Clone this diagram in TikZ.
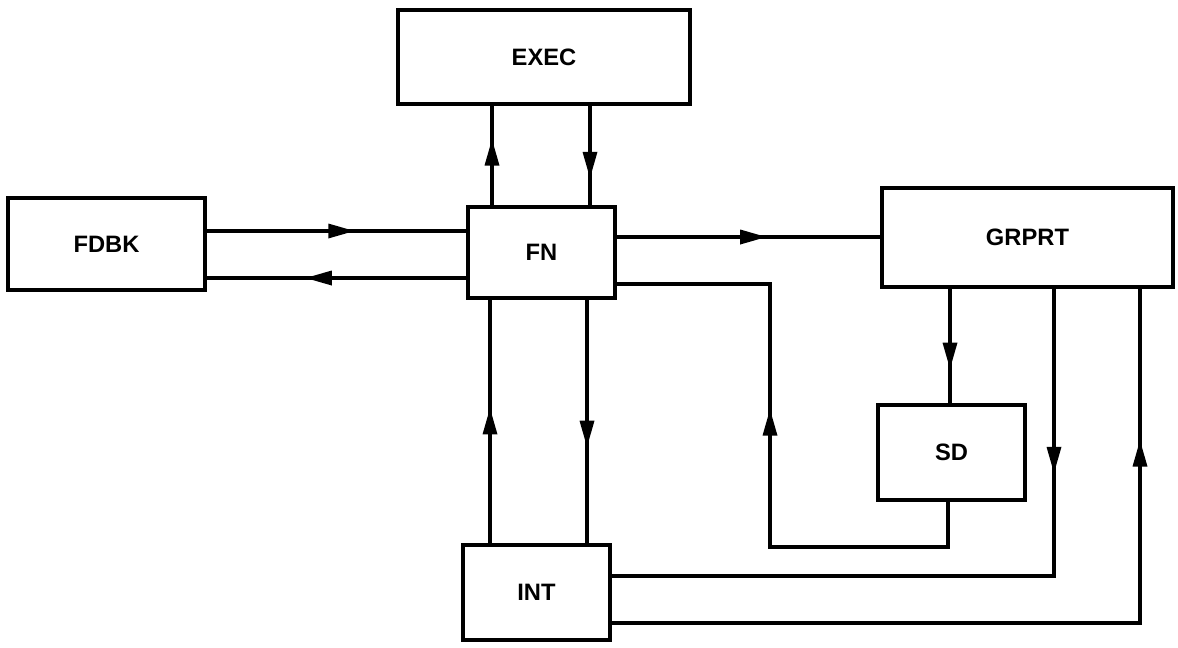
\documentclass[tikz,border=0pt]{standalone}
\usepackage{fontspec}
\setmainfont{Liberation Sans}
\usetikzlibrary{shapes.geometric}
\newdimen\pxu \pxu=0.02cm
\begin{document}
\begin{tikzpicture}[x=0.02cm, y=-0.02cm,
  blk/.style={draw, line width=2pt, inner sep=0pt, font=\bfseries\fontsize{13.5}{16}\selectfont},
  conn/.style={line width=2pt},
  ahead/.style={sloped, allow upside down, isosceles triangle, isosceles triangle stretches, fill=black, draw=none, inner sep=0pt, minimum height=26\pxu, minimum width=15\pxu}]
\useasboundingbox (0,0) rectangle (1178,647);
% boxes
\node[blk, minimum width=292\pxu, minimum height=94\pxu] (EXEC) at (544,57) {EXEC};
\node[blk, minimum width=197\pxu, minimum height=92\pxu] (FDBK) at (106.5,244) {FDBK};
\node[blk, minimum width=147\pxu, minimum height=91\pxu] (FN) at (541.5,252.5) {FN};
\node[blk, minimum width=291\pxu, minimum height=99\pxu] (GRPRT) at (1027.5,237.5) {GRPRT};
\node[blk, minimum width=147\pxu, minimum height=95\pxu] (SD) at (951.5,452.5) {SD};
\node[blk, minimum width=147\pxu, minimum height=95\pxu] (INT) at (536.5,592.5) {INT};
% FN <-> EXEC
\draw[conn] (FN.north -| 492,0) -- node[ahead, pos=0.456]{} (EXEC.south -| 492,0);
\draw[conn] (EXEC.south -| 590,0) -- node[ahead, pos=0.52]{} (FN.north -| 590,0);
% FDBK <-> FN
\draw[conn] (FDBK.east |- 0,231) -- node[ahead, pos=0.49]{} (FN.west |- 0,231);
\draw[conn] (FN.west |- 0,278) -- node[ahead, pos=0.54]{} (FDBK.east |- 0,278);
% FN -> GRPRT
\draw[conn] (FN.east |- 0,237) -- node[ahead, pos=0.49]{} (GRPRT.west |- 0,237);
% INT <-> FN
\draw[conn] (INT.north -| 490,0) -- node[ahead, pos=0.47]{} (FN.south -| 490,0);
\draw[conn] (FN.south -| 587,0) -- node[ahead, pos=0.52]{} (INT.north -| 587,0);
% SD -> FN
\draw[conn] (SD.south -| 948,0) -- (948,547) -- (770,547) -- node[ahead, pos=0.445]{} (770,284) -- (FN.east |- 0,284);
% GRPRT -> SD
\draw[conn] (GRPRT.south -| 950,0) -- node[ahead, pos=0.52]{} (SD.north -| 950,0);
% GRPRT -> INT
\draw[conn] (GRPRT.south -| 1054,0) -- node[ahead, pos=0.57]{} (1054,576) -- (INT.east |- 0,576);
% INT -> GRPRT
\draw[conn] (INT.east |- 0,623) -- (1140,623) -- node[ahead, pos=0.485]{} (GRPRT.south -| 1140,0);
\end{tikzpicture}
\end{document}
